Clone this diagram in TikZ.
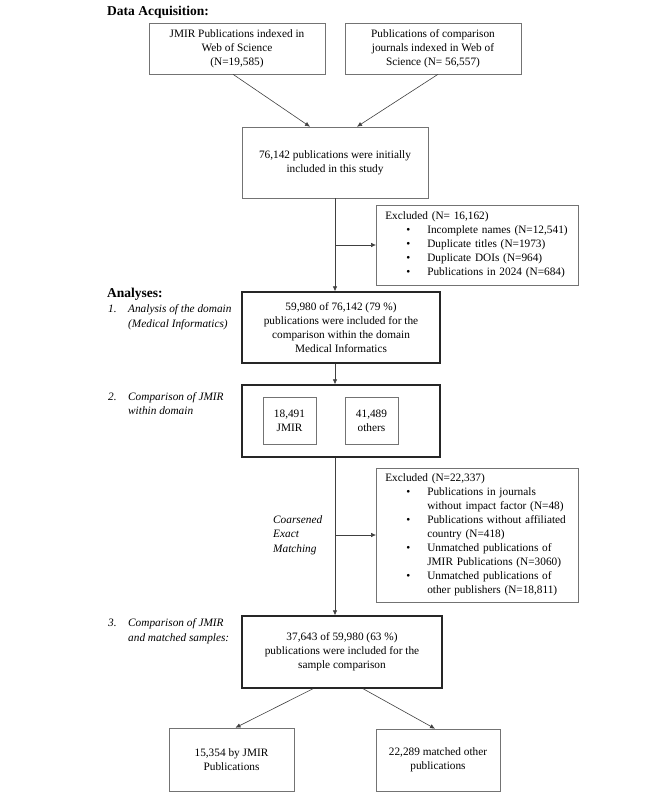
\documentclass[tikz,border=0pt]{standalone}
\usepackage{fontspec}
\setmainfont{Liberation Serif}
\usetikzlibrary{arrows.meta}

\newcommand{\bitem}[1]{\makebox[42pt][l]{\hspace{21pt}\textbullet}#1}
\newcommand{\bcont}[1]{\hspace*{42pt}#1}

\begin{document}
\begin{tikzpicture}[x=1pt,y=-1pt,
    font=\fontsize{11.3}{14}\selectfont,
    thinbox/.style={draw=black!55, line width=0.6pt, align=center, inner sep=2pt},
    thickbox/.style={draw=black!85, line width=1.4pt, align=center, inner sep=2pt},
    exclbox/.style={draw=black!55, line width=0.6pt, align=left, anchor=west,
      inner xsep=9pt, text width=184pt, minimum width=202pt},
    flow/.style={draw=black!75, line width=0.6pt, -{Latex[length=5pt,width=4.5pt]}},
    heading/.style={font=\fontsize{13.5}{16}\selectfont\bfseries, anchor=west, inner sep=0pt},
    steplabel/.style={font=\fontsize{11.3}{14.5}\selectfont\itshape, anchor=west,
      inner sep=0pt, align=left}]

  \useasboundingbox (0,0) rectangle (666,799);

  % headings and step labels
  \node[heading] (acq) at (107,12) {Data Acquisition:};
  \node[heading] (ana) at (107,294) {Analyses:};
  \node[steplabel] (lab1) at (108,317)
    {\begin{tabular}{@{}p{20pt}@{}l@{}}1. & Analysis of the domain\\ & (Medical Informatics)\end{tabular}};
  \node[steplabel] (lab2) at (108,404.5)
    {\begin{tabular}{@{}p{20pt}@{}l@{}}2. & Comparison of JMIR\\ & within domain\end{tabular}};
  \node[steplabel] (lab3) at (108,631)
    {\begin{tabular}{@{}p{20pt}@{}l@{}}3. & Comparison of JMIR\\ & and matched samples:\end{tabular}};
  \node[steplabel] (cem) at (273,535) {Coarsened\\Exact\\Matching};

  % data acquisition boxes
  \node[thinbox, minimum width=176pt, minimum height=51pt] (jmir) at (237,48.5)
    {JMIR Publications indexed in\\Web of Science\\(N=19,585)};
  \node[thinbox, minimum width=176pt, minimum height=51pt] (comp) at (433,48.5)
    {Publications of comparison\\journals indexed in Web of\\Science (N= 56,557)};
  \node[thinbox, minimum width=186pt, minimum height=71pt] (init) at (335,162.5)
    {76,142 publications were initially\\included in this study};
  \node[exclbox, minimum height=80pt] (excl1) at (376,245)
    {Excluded (N= 16,162)\\
     \bitem{Incomplete names (N=12,541)}\\
     \bitem{Duplicate titles (N=1973)}\\
     \bitem{Duplicate DOIs (N=964)}\\
     \bitem{Publications in 2024 (N=684)}};

  % analyses boxes
  \node[thickbox, minimum width=198pt, minimum height=71pt] (domain) at (341,327.5)
    {59,980 of 76,142 (79 \%)\\publications were included for the\\comparison within the domain\\Medical Informatics};
  \node[thickbox, minimum width=198pt, minimum height=72pt] (within) at (341,421) {};
  \node[thinbox, minimum width=53pt, minimum height=47pt] (jmirin) at (289.5,420.5) {18,491\\JMIR};
  \node[thinbox, minimum width=53pt, minimum height=47pt] (others) at (371.5,420.5) {41,489\\others};
  \node[exclbox, minimum height=134pt] (excl2) at (376,535)
    {Excluded (N=22,337)\\
     \bitem{Publications in journals}\\
     \bcont{without impact factor (N=48)}\\
     \bitem{Publications without affiliated}\\
     \bcont{country (N=418)}\\
     \bitem{Unmatched publications of}\\
     \bcont{JMIR Publications (N=3060)}\\
     \bitem{Unmatched publications of}\\
     \bcont{other publishers (N=18,811)}};
  \node[thickbox, minimum width=200pt, minimum height=72pt] (sample) at (342,652)
    {37,643 of 59,980 (63 \%)\\publications were included for the\\sample comparison};
  \node[thinbox, minimum width=125pt, minimum height=63pt] (byjmir) at (231.5,759.5)
    {15,354 by JMIR\\Publications};
  \node[thinbox, minimum width=124pt, minimum height=62pt] (matched) at (438,760)
    {22,289 matched other\\publications};

  % connectors
  \coordinate (split1) at (init.south |- excl1.west);
  \coordinate (split2) at (init.south |- excl2.west);
  \draw[flow] ([xshift=-4pt]jmir.south) -- ([xshift=-25pt]init.north);
  \draw[flow] ([xshift=5pt]comp.south) -- ([xshift=22pt]init.north);
  \draw[flow] (init.south) -- (init.south |- domain.north);
  \draw[flow] (split1) -- (excl1.west);
  \draw[flow] (init.south |- domain.south) -- (init.south |- within.north);
  \draw[flow] (init.south |- within.south) -- (init.south |- sample.north);
  \draw[flow] (split2) -- (excl2.west);
  \draw[flow] ([xshift=-29pt]sample.south) -- ([xshift=4pt]byjmir.north);
  \draw[flow] ([xshift=21pt]sample.south) -- ([xshift=-3pt]matched.north);

\end{tikzpicture}
\end{document}
